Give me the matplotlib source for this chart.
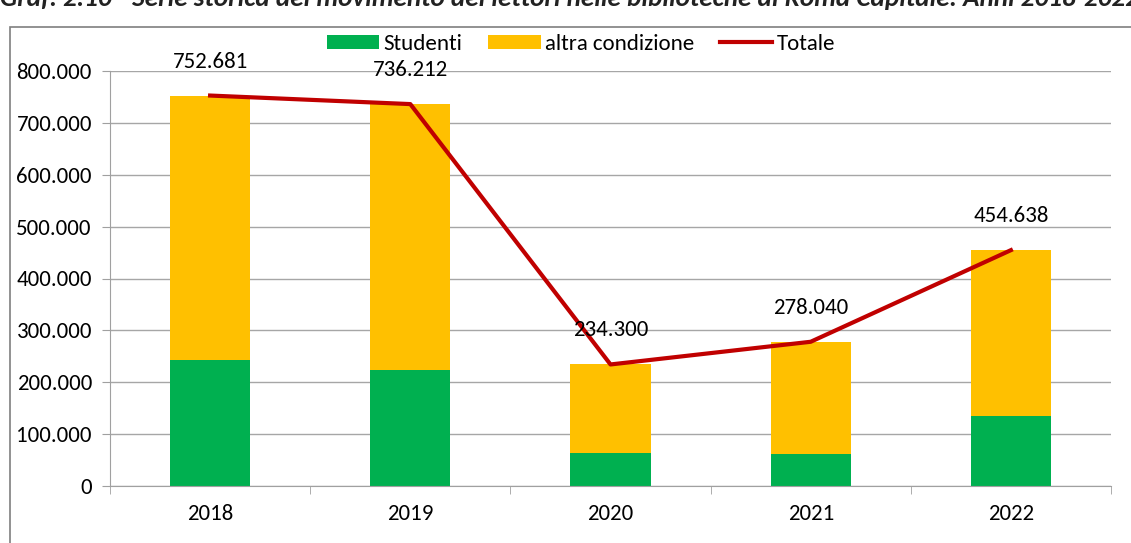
import matplotlib.pyplot as plt
from matplotlib.patches import Rectangle
from matplotlib.ticker import FuncFormatter

# dati
anni = ['2018', '2019', '2020', '2021', '2022']
totale = [752681, 736212, 234300, 278040, 454638]
studenti = [243000, 223500, 63500, 62000, 135000]
altra = [t - s for t, s in zip(totale, studenti)]

plt.rcParams['font.family'] = ['Carlito', 'Liberation Sans', 'DejaVu Sans']

fig = plt.figure(figsize=(11.31, 5.43), dpi=100)
W, H = 1131, 543
ax = fig.add_axes([110 / W, 57 / H, 1001 / W, 415 / H])

x = range(len(anni))
b1 = ax.bar(x, studenti, width=0.4, color='#00B050', label='Studenti', zorder=2)
b2 = ax.bar(x, altra, width=0.4, bottom=studenti, color='#FFC000',
            label='altra condizione', zorder=2)
l1, = ax.plot(x, totale, color='#C00000', lw=3, label='Totale', zorder=3)

for xi, v in zip(x, totale):
    ax.annotate(f'{v:,}'.replace(',', '.'), (xi, v), xytext=(0, 24.5),
                textcoords='offset points', ha='center', va='center',
                fontsize=16.5, annotation_clip=False, zorder=4)

ax.set_xlim(-0.5, len(anni) - 0.5)
ax.set_ylim(0, 800000)
ax.set_yticks(range(0, 800001, 100000))
ax.yaxis.set_major_formatter(FuncFormatter(lambda v, p: f'{int(v):,}'.replace(',', '.')))
ax.set_xticks(list(x))
ax.set_xticklabels(anni)
ax.set_xticks([i - 0.5 for i in range(len(anni) + 1)], minor=True)
ax.tick_params(axis='x', which='major', length=0, pad=13, labelsize=16.5)
ax.tick_params(axis='x', which='minor', length=6, color='#a0a0a0')
ax.tick_params(axis='y', length=6, color='#a0a0a0', labelsize=16.5, pad=7)
ax.grid(axis='y', color='#a6a6a6', lw=1, zorder=0)
for s in ['top', 'right']:
    ax.spines[s].set_visible(False)
for s in ['left', 'bottom']:
    ax.spines[s].set_color('#a0a0a0')

ax.legend([b1, b2, l1], ['Studenti', 'altra condizione', 'Totale'],
          loc='center', bbox_to_anchor=((581 - 110) / 1001, (543 - 44 - 57) / 415),
          ncol=3, frameon=False, fontsize=16.5, handlelength=2.3,
          handleheight=0.6, columnspacing=1.1, handletextpad=0.2,
          borderpad=0, borderaxespad=0)

# cornice e titolo tagliato
fig.patches.append(Rectangle((10 / W, -0.05), 1.1, 1 - 27 / H + 0.05,
                             transform=fig.transFigure, fill=False,
                             edgecolor='#7f7f7f', lw=1.2))
fig.text(0.0, 1 - 6 / H,
         'Graf. 2.10 - Serie storica del movimento dei lettori nelle biblioteche di Roma Capitale. Anni 2018-2022',
         fontsize=19.5, fontweight='bold', fontstyle='italic', color='#222222',
         ha='left', va='baseline')

fig.savefig('out.png', dpi=100)
